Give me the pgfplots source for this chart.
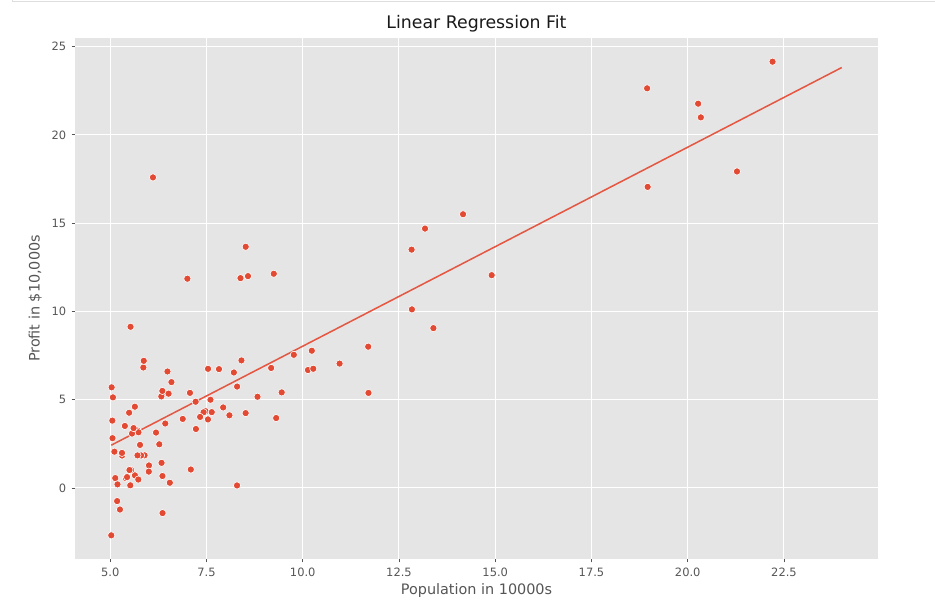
\documentclass[border=0pt]{standalone}
\usepackage{fontspec}
\setmainfont{DejaVu Sans}
\usepackage{pgfplots}
\pgfplotsset{compat=1.18}
\definecolor{ggback}{HTML}{E5E5E5}
\definecolor{ggred}{HTML}{E24A33}
\definecolor{ggtext}{HTML}{555555}
\begin{document}
\begin{tikzpicture}[x=0.75pt,y=0.75pt]
\useasboundingbox (0,0) rectangle (935,607);
\draw[color=black!13, line width=0.75pt] (12,607) -- (12,605.5) -- (935,605.5);
\begin{axis}[
  at={(56.25pt,36pt)}, anchor=south west,
  scale only axis, width=602.25pt, height=390.75pt,
  xmin=4.0846, xmax=24.9423, ymin=-4.022, ymax=25.488,
  xtick={5,7.5,10,12.5,15,17.5,20,22.5},
  ytick={0,5,10,15,20,25},
  xticklabels={5.0,7.5,10.0,12.5,15.0,17.5,20.0,22.5},
  tick pos=left, tick align=outside,
  major tick length=2.6pt,
  tick style={color=ggtext, line width=0.6pt},
  axis line style={draw=none},
  axis background/.style={fill=ggback},
  grid=major, major grid style={white, line width=0.75pt},
  ticklabel style={font=\fontsize{8.6}{10}\selectfont, text=ggtext},
  /pgf/number format/assume math mode=true,
  xticklabel style={yshift=-0.5pt},
  yticklabel style={xshift=-0.5pt},
  title={Linear Regression Fit},
  title style={at={(axis description cs:0.5,1.0038)}, anchor=base, yshift=0pt, font=\fontsize{13}{15}\selectfont, text=black!90},
  xlabel={Population in 10000s},
  xlabel style={at={(axis description cs:0.5,-0.068)}, anchor=base, font=\fontsize{10.8}{13}\selectfont, text=ggtext},
  ylabel={Profit in \$10,000s},
  ylabel style={at={(axis description cs:-0.044,0.5)}, anchor=base, font=\fontsize{10.8}{13}\selectfont, text=ggtext},
]
\addplot[only marks, mark=*, mark size=2.7pt, mark options={fill=ggred, draw=white, line width=0.45pt}] table {
x y
6.1101 17.592
5.5277 9.1302
8.5186 13.662
7.0032 11.854
5.8598 6.8233
8.3829 11.886
7.4764 4.3483
8.5781 12
6.4862 6.5987
5.0546 3.8166
5.7107 3.2522
14.164 15.505
5.734 3.1551
8.4084 7.2258
5.6407 0.71618
5.3794 3.5129
6.3654 5.3048
5.1301 0.56077
6.4296 3.6518
7.0708 5.3893
6.1891 3.1386
20.27 21.767
5.4901 4.263
6.3261 5.1875
5.5649 3.0825
18.945 22.638
12.828 13.501
10.957 7.0467
13.176 14.692
22.203 24.147
5.2524 -1.22
6.5894 5.9966
9.2482 12.134
5.8918 1.8495
8.2111 6.5426
7.9334 4.5623
8.0959 4.1164
5.6063 3.3928
12.836 10.117
6.3534 5.4974
5.4069 0.55657
6.8825 3.9115
11.708 5.3854
5.7737 2.4406
7.8247 6.7318
7.0931 1.0463
5.0702 5.1337
5.8014 1.844
11.7 8.0043
5.5416 1.0179
7.5402 6.7504
5.3077 1.8396
7.4239 4.2885
7.6031 4.9981
6.3328 1.4233
6.3589 -1.4211
6.2742 2.4756
5.6397 4.6042
9.3102 3.9624
9.4536 5.4141
8.8254 5.1694
5.1793 -0.74279
21.279 17.929
14.908 12.054
18.959 17.054
7.2182 4.8852
8.2951 5.7442
10.236 7.7754
5.4994 1.0173
20.341 20.992
10.136 6.6799
7.3345 4.0259
6.0062 1.2784
7.2259 3.3411
5.0269 -2.6807
6.5479 0.29678
7.5386 3.8845
5.0365 5.7014
10.274 6.7526
5.1077 2.0576
5.7292 0.47953
5.1884 0.20421
6.3557 0.67861
9.7687 7.5435
6.5159 5.3436
8.5172 4.2415
9.1802 6.7981
6.002 0.92695
5.5204 0.152
5.0594 2.8214
5.7077 1.8451
7.6366 4.2959
5.8707 7.2029
5.3054 1.9869
8.2934 0.14454
13.394 9.0551
5.4369 0.61705
};
\addplot[color=ggred!92!white, line width=1.15pt, no marks] coordinates {(5.0269,2.4253) (24,23.8137)};
\end{axis}
\end{tikzpicture}
\end{document}
